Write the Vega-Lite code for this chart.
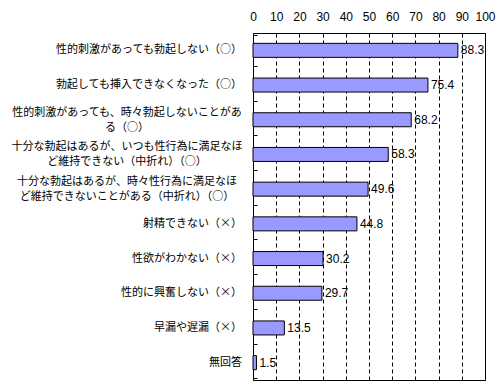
{
  "$schema": "https://vega.github.io/schema/vega-lite/v6.json",
  "width": 232,
  "height": 347,
  "autosize": {"type": "none"},
  "padding": {"left": 253, "top": 33, "right": 15, "bottom": 5},
  "background": "white",
  "data": {"values": [
    {"item": "性的刺激があっても勃起しない（○）", "pct": 88.3},
    {"item": "勃起しても挿入できなくなった（○）", "pct": 75.4},
    {"item": "性的刺激があっても、時々勃起しないことがあ|る（○）", "pct": 68.2},
    {"item": "十分な勃起はあるが、いつも性行為に満足なほ|ど維持できない（中折れ）（○）", "pct": 58.3},
    {"item": "十分な勃起はあるが、時々性行為に満足なほ|ど維持できないことがある（中折れ）（○）", "pct": 49.6},
    {"item": "射精できない（×）", "pct": 44.8},
    {"item": "性欲がわかない（×）", "pct": 30.2},
    {"item": "性的に興奮しない（×）", "pct": 29.7},
    {"item": "早漏や遅漏（×）", "pct": 13.5},
    {"item": "無回答", "pct": 1.5}
  ]},
  "encoding": {
    "y": {
      "field": "item", "type": "nominal", "sort": null, "title": null,
      "axis": {
        "domain": false, "labels": false,
        "ticks": true, "tickBand": "extent", "tickSize": -4, "tickColor": "black"
      }
    },
    "x": {
      "field": "pct", "type": "quantitative", "title": null,
      "scale": {"domain": [0, 100], "nice": false},
      "axis": {
        "orient": "top", "values": [0,10,20,30,40,50,60,70,80,90,100],
        "domain": false, "ticks": false, "labelOverlap": false,
        "grid": true, "gridColor": "black", "gridDash": [4, 3], "gridOpacity": 1,
        "labelPadding": 10, "labelDx": -2,
        "labelFont": "Liberation Sans", "labelFontSize": 12, "labelColor": "black",
        "labelFlush": false
      }
    }
  },
  "layer": [
    {
      "mark": {"type": "bar", "fill": "#9999FF", "stroke": "black", "strokeWidth": 1, "size": 14}
    },
    {
      "mark": {"type": "text", "align": "left", "baseline": "middle", "dx": 3, "font": "Liberation Sans", "fontSize": 12, "color": "black"},
      "encoding": {
        "text": {"field": "pct", "type": "quantitative", "format": ".1f"}
      }
    },
    {
      "transform": [{"filter": "length(split(datum.item, '|')) == 1"}],
      "mark": {
        "type": "text", "baseline": "middle", "font": "Noto Sans CJK JP", "fontSize": 11, "color": "black",
        "align": "right", "dx": -11
      },
      "encoding": {
        "x": {"datum": 0, "type": "quantitative"},
        "text": {"field": "item"}
      }
    },
    {
      "transform": [{"filter": "length(split(datum.item, '|')) > 1"}],
      "mark": {
        "type": "text", "baseline": "middle", "font": "Noto Sans CJK JP", "fontSize": 11, "color": "black", "lineHeight": 15,
        "align": "center", "dx": -126, "dy": -7,
        "text": {"expr": "split(datum.item, '|')"}
      },
      "encoding": {
        "x": {"datum": 0, "type": "quantitative"}
      }
    }
  ],
  "config": {
    "view": {"stroke": "black", "strokeWidth": 1}
  }
}
